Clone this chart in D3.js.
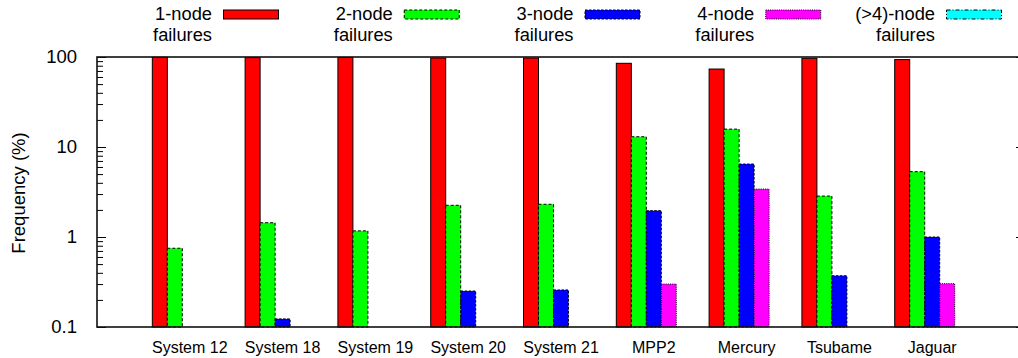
<!DOCTYPE html>
<html>
<head>
<meta charset="utf-8">
<script src="https://cdn.jsdelivr.net/npm/d3@7"></script>
<style>
  html, body { margin: 0; padding: 0; background: #fff; }
  svg { display: block; font-family: "Liberation Sans", Arial, sans-serif; }
</style>
</head>
<body>
<svg id="chart" width="1018" height="358"></svg>
<script>
// Share of failure events by how many nodes they take down, per system
const categories = ["System 12", "System 18", "System 19", "System 20", "System 21", "MPP2", "Mercury", "Tsubame", "Jaguar"];
const oneNode   = [99.25, 98.44, 98.83, 97.5, 97.43, 85.1, 73.5, 96.7, 93.6];
const twoNode   = [0.75, 1.44, 1.17, 2.25, 2.31, 13.0, 15.8, 2.85, 5.32];
const threeNode = [0, 0.123, 0, 0.251, 0.258, 1.96, 6.47, 0.371, 1.0];
const fourNode  = [0, 0, 0, 0, 0, 0.30, 3.41, 0, 0.303];
const moreNode  = [0, 0, 0, 0, 0, 0, 0, 0, 0];
const seriesNames = ["1-node\nfailures", "2-node\nfailures", "3-node\nfailures", "4-node\nfailures", "(>4)-node\nfailures"];
const yTickValues = [0.1, 1, 10, 100];
const yTickLabels = ["0.1", "1", "10", "100"];

const seriesValues = [oneNode, twoNode, threeNode, fourNode, moreNode];
const seriesStyle = [
  { fill: "#ff0000", dash: null },
  { fill: "#00ff00", dash: "3,2" },
  { fill: "#0000ff", dash: "2.5,1.5" },
  { fill: "#ff00ff", dash: "1,1.2" },
  { fill: "#00ffff", dash: "4,2,1,2" }
];

const svg = d3.select("#chart");
const plotLeft = 97, plotRight = 1025, plotTop = 57, plotBottom = 327;

const x = d3.scaleBand().domain(categories).range([plotLeft, plotRight])
  .paddingInner(0.192).paddingOuter(0.596);
const xs = d3.scaleBand().domain(d3.range(seriesValues.length)).range([0, x.bandwidth()]);
const y = d3.scaleLog().domain([0.1, 100]).range([plotBottom, plotTop]);

// bars
const bars = [];
seriesValues.forEach((vals, s) => {
  vals.forEach((v, i) => { if (v > 0.1) bars.push({ s, cat: categories[i], v }); });
});
svg.append("g").selectAll("rect").data(bars).join("rect")
  .attr("x", d => x(d.cat) + xs(d.s))
  .attr("y", d => y(d.v))
  .attr("width", xs.bandwidth())
  .attr("height", d => y(0.1) - y(d.v))
  .attr("fill", d => seriesStyle[d.s].fill)
  .attr("stroke", "#000")
  .attr("stroke-width", 1)
  .attr("stroke-dasharray", d => seriesStyle[d.s].dash);

// y axis: major and minor ticks pointing inward, on both sides
const minorTicks = y.ticks().filter(t => !yTickValues.some(m => Math.abs(m - t) < 1e-9));
const fmt = v => yTickLabels[yTickValues.indexOf(v)];

const axL = svg.append("g").attr("transform", `translate(${plotLeft},0)`)
  .call(d3.axisLeft(y).tickValues(yTickValues).tickFormat(fmt).tickSize(-9).tickPadding(20));
axL.select(".domain").remove();
axL.selectAll("text").attr("font-size", 18.5).attr("fill", "#000")
  .attr("font-family", "Liberation Sans, Arial, sans-serif");
axL.selectAll("line").attr("stroke", "#000");

const axLm = svg.append("g").attr("transform", `translate(${plotLeft},0)`)
  .call(d3.axisLeft(y).tickValues(minorTicks).tickFormat("").tickSize(-6));
axLm.select(".domain").remove();
axLm.selectAll("line").attr("stroke", "#000");

const axR = svg.append("g").attr("transform", `translate(${plotRight},0)`)
  .call(d3.axisRight(y).tickValues(yTickValues).tickFormat("").tickSize(-9));
axR.select(".domain").remove();
axR.selectAll("line").attr("stroke", "#000");
const axRm = svg.append("g").attr("transform", `translate(${plotRight},0)`)
  .call(d3.axisRight(y).tickValues(minorTicks).tickFormat("").tickSize(-6));
axRm.select(".domain").remove();
axRm.selectAll("line").attr("stroke", "#000");

// frame
svg.append("rect")
  .attr("x", plotLeft).attr("y", plotTop)
  .attr("width", plotRight - plotLeft).attr("height", plotBottom - plotTop)
  .attr("fill", "none").attr("stroke", "#111").attr("stroke-width", 1.6);

// category labels
svg.append("g").selectAll("text").data(categories).join("text")
  .attr("x", d => x(d) + x.bandwidth() / 2)
  .attr("y", 352.5)
  .attr("text-anchor", "middle")
  .attr("font-size", 16)
  .attr("fill", "#000")
  .text(d => d);

// y axis title
svg.append("text")
  .attr("transform", `translate(25,${(plotTop + plotBottom) / 2 + 1}) rotate(-90)`)
  .attr("text-anchor", "middle")
  .attr("font-size", 18.5)
  .attr("fill", "#000")
  .text("Frequency (%)");

// legend across the top
const legend = svg.append("g");
seriesNames.forEach((name, s) => {
  const tx = 212 + s * 180.75;
  const lines = name.split("\n");
  lines.forEach((ln, k) => {
    legend.append("text")
      .attr("x", tx).attr("y", 19.6 + k * 21.4)
      .attr("text-anchor", "end")
      .attr("font-size", 18.3)
      .attr("fill", "#000")
      .text(ln);
  });
  legend.append("rect")
    .attr("x", tx + 11.5).attr("y", 10)
    .attr("width", 55).attr("height", 9)
    .attr("fill", seriesStyle[s].fill)
    .attr("stroke", "#000").attr("stroke-width", 1)
    .attr("stroke-dasharray", seriesStyle[s].dash);
});
</script>
</body>
</html>
